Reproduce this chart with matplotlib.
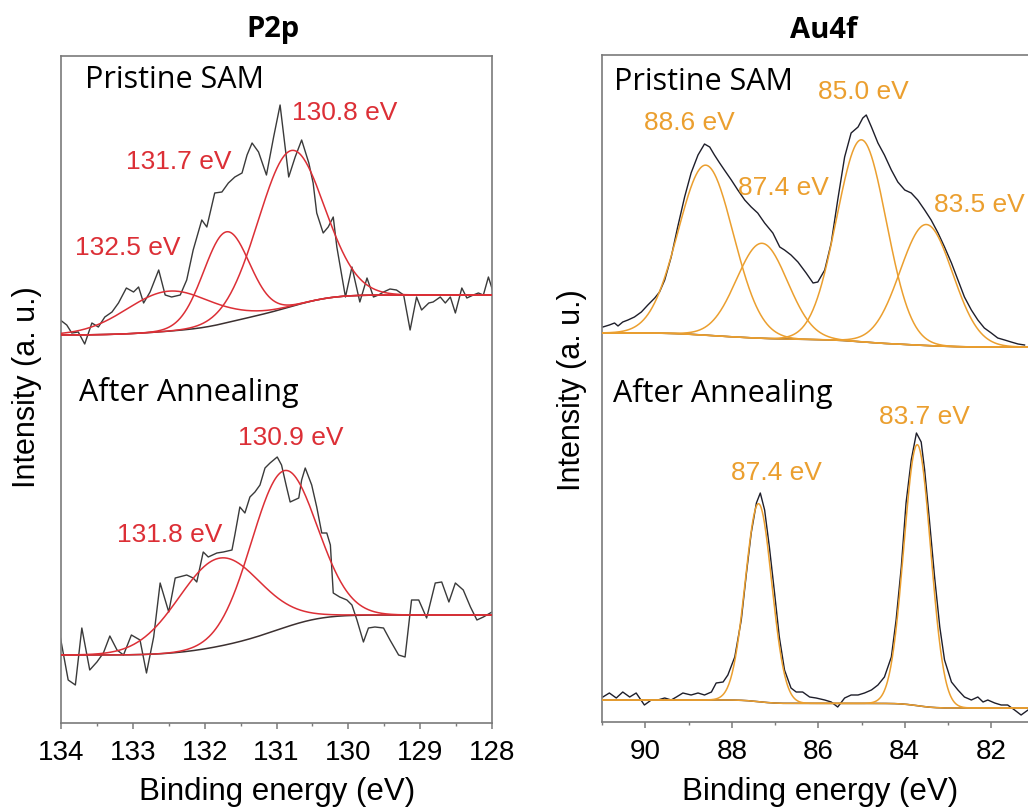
import numpy as np
import matplotlib
matplotlib.use('Agg')
import matplotlib.pyplot as plt
from matplotlib.ticker import MultipleLocator

plt.rcParams['font.family'] = ['Liberation Sans', 'DejaVu Sans']

# ---- P2p, pristine SAM: binding energy (eV) / intensity (a.u.)
p2p_sam_be = [134.01, 133.92, 133.85, 133.76, 133.67, 133.57, 133.48, 133.39, 133.29, 133.20,
              133.09, 132.99, 132.92, 132.85, 132.76, 132.64, 132.55, 132.46, 132.34, 132.25,
              132.16, 132.04, 131.97, 131.86, 131.76, 131.67, 131.58, 131.48, 131.41, 131.34,
              131.25, 131.14, 131.04, 130.95, 130.83, 130.74, 130.65, 130.55, 130.49, 130.44,
              130.35, 130.28, 130.21, 130.16, 130.04, 129.95, 129.84, 129.74, 129.65, 129.58,
              129.51, 129.42, 129.33, 129.23, 129.14, 129.05, 128.98, 128.88, 128.82, 128.72,
              128.65, 128.58, 128.51, 128.42, 128.35, 128.26, 128.19, 128.12, 128.05, 127.98]
p2p_sam_int = [403, 398, 390, 391, 379, 400, 396, 406, 411, 420,
               435, 431, 436, 420, 431, 453, 428, 426, 428, 443,
               473, 503, 496, 530, 531, 540, 546, 550, 568, 580,
               571, 548, 586, 618, 546, 566, 583, 560, 540, 510,
               490, 496, 506, 476, 426, 456, 421, 445, 426, 428,
               431, 434, 433, 428, 393, 426, 413, 420, 421, 426,
               420, 426, 410, 435, 425, 428, 430, 428, 446, 430]
p2p_sam_centers = [130.8, 131.7, 132.5]
p2p_sam_heights = [156, 91, 40]
p2p_sam_fwhm = [1.07, 0.75, 1.4]
p2p_sam_bg = (388, 428)  # high-BE side, low-BE side

# ---- P2p, after annealing
p2p_ann_be = [134.01, 133.90, 133.80, 133.71, 133.60, 133.50, 133.41, 133.32, 133.22, 133.13,
              133.02, 132.90, 132.81, 132.71, 132.62, 132.50, 132.41, 132.25, 132.16, 132.11,
              132.02, 131.95, 131.83, 131.74, 131.62, 131.58, 131.51, 131.44, 131.37, 131.30,
              131.23, 131.16, 131.09, 130.99, 130.93, 130.86, 130.81, 130.69, 130.65, 130.60,
              130.51, 130.44, 130.37, 130.30, 130.25, 130.21, 130.12, 130.02, 129.95, 129.88,
              129.79, 129.72, 129.63, 129.51, 129.42, 129.30, 129.21, 129.12, 129.02, 128.91,
              128.79, 128.70, 128.60, 128.51, 128.40, 128.30, 128.21, 128.12, 128.00]
p2p_ann_int = [86, 43, 38, 95, 53, 61, 70, 87, 73, 68,
               88, 83, 50, 86, 140, 111, 145, 148, 145, 141,
               171, 166, 170, 171, 173, 188, 216, 210, 226, 231,
               238, 255, 260, 266, 258, 236, 221, 225, 243, 255,
               238, 216, 190, 190, 178, 130, 126, 123, 118, 103,
               81, 95, 96, 95, 83, 68, 66, 123, 123, 105,
               140, 141, 121, 140, 133, 116, 103, 106, 111]
p2p_ann_centers = [130.9, 131.8]
p2p_ann_heights = [157, 88]
p2p_ann_fwhm = [1.07, 1.35]
p2p_ann_bg = (68, 108)

# ---- Au4f, pristine SAM
au_sam_be = [90.98, 90.83, 90.71, 90.63, 90.52, 90.40, 90.25, 90.09, 89.94, 89.78,
             89.67, 89.55, 89.40, 89.25, 89.09, 88.94, 88.78, 88.63, 88.51, 88.40,
             88.28, 88.17, 88.01, 87.86, 87.70, 87.55, 87.40, 87.24, 87.05, 86.89,
             86.78, 86.63, 86.47, 86.28, 86.12, 86.01, 85.85, 85.70, 85.55, 85.39,
             85.24, 85.08, 84.97, 84.89, 84.77, 84.62, 84.47, 84.31, 84.16, 84.00,
             83.85, 83.70, 83.54, 83.39, 83.23, 83.08, 82.92, 82.77, 82.62, 82.46,
             82.31, 82.16, 82.00, 81.85, 81.69, 81.54, 81.38, 81.23]
au_sam_int = [395, 397, 399, 396, 400, 402, 405, 410, 417, 424,
              430, 442, 465, 495, 525, 549, 567, 578, 575, 567,
              559, 552, 542, 532, 522, 515, 509, 499, 489, 475,
              472, 467, 460, 449, 439, 440, 452, 479, 522, 565,
              589, 595, 604, 607, 595, 579, 567, 552, 540, 532,
              529, 522, 512, 502, 489, 475, 459, 442, 425, 412,
              402, 394, 389, 384, 382, 380, 378, 377]
au_sam_centers = [88.6, 87.3, 85.0, 83.5]
au_sam_heights = [170, 95, 202, 121]
au_sam_fwhm = [1.50, 1.39, 1.35, 1.43]
au_sam_bg = (389, 375)

# ---- Au4f, after annealing
au_ann_be = [90.98, 90.83, 90.67, 90.52, 90.36, 90.21, 90.02, 89.86, 89.71, 89.55,
             89.40, 89.28, 89.13, 88.94, 88.78, 88.63, 88.47, 88.36, 88.20, 88.09,
             87.93, 87.78, 87.66, 87.55, 87.43, 87.34, 87.24, 87.13, 87.01, 86.90,
             86.78, 86.63, 86.51, 86.36, 86.20, 86.05, 85.85, 85.70, 85.55, 85.39,
             85.24, 85.08, 84.93, 84.77, 84.62, 84.47, 84.31, 84.20, 84.08, 83.97,
             83.85, 83.73, 83.62, 83.54, 83.43, 83.31, 83.19, 83.08, 82.92, 82.77,
             82.62, 82.46, 82.31, 82.19, 82.08, 81.92, 81.77, 81.62, 81.46, 81.31, 81.15]
au_ann_int = [25, 29, 24, 30, 25, 29, 17, 22, 22, 24,
              22, 25, 29, 27, 29, 27, 30, 39, 40, 47,
              65, 102, 149, 189, 219, 229, 212, 175, 129, 85,
              52, 34, 30, 30, 25, 24, 22, 20, 15, 24,
              27, 27, 29, 32, 37, 45, 65, 102, 155, 219,
              262, 289, 280, 252, 202, 145, 95, 62, 40, 32,
              25, 22, 25, 20, 22, 19, 17, 17, 12, 7, 12]
au_ann_centers = [87.38, 83.71]
au_ann_heights = [198, 261]
au_ann_fwhm = [0.72, 0.73]
au_ann_bg = (22, 14)

p2p_sam_labels = ['130.8 eV', '131.7 eV', '132.5 eV']
p2p_ann_labels = ['130.9 eV', '131.8 eV']
au_sam_labels = ['88.6 eV', '87.4 eV', '85.0 eV', '83.5 eV']
au_ann_labels = ['87.4 eV', '83.7 eV']

RED = '#dc2f36'
ORANGE = '#eb9f2f'
DATA = '#3a3a3a'


def gauss(x, c, h, fwhm):
    s = fwhm / 2.3548
    return h * np.exp(-0.5 * ((x - c) / s) ** 2)


def draw_fit(ax, x, centers, heights, fwhm, bg_levels, color):
    comps = [gauss(x, c, h, w) for c, h, w in zip(centers, heights, fwhm)]
    total = np.sum(comps, axis=0)
    frac = np.cumsum(total) / np.sum(total)   # x ascending -> Shirley-like step
    bg = bg_levels[1] + (bg_levels[0] - bg_levels[1]) * frac
    ax.plot(x, bg, color='#3c3030', lw=1.1, zorder=3)
    for comp in comps:
        ax.plot(x, bg + comp, color=color, lw=1.1, zorder=4)


fig = plt.figure(figsize=(10.28, 8.09), dpi=100)
ax1 = fig.add_axes([61 / 1028, 86 / 809, 431 / 1028, 667 / 809])
ax2 = fig.add_axes([602 / 1028, 87 / 809, 432.5 / 1028, 667 / 809])

# left: P2p
ax1.plot(p2p_sam_be, p2p_sam_int, color=DATA, lw=1.0, zorder=2)
ax1.plot(p2p_ann_be, p2p_ann_int, color=DATA, lw=1.0, zorder=2)
xg = np.linspace(127.9, 134.1, 600)
draw_fit(ax1, xg, p2p_sam_centers, p2p_sam_heights, p2p_sam_fwhm, p2p_sam_bg, RED)
draw_fit(ax1, xg, p2p_ann_centers, p2p_ann_heights, p2p_ann_fwhm, p2p_ann_bg, RED)
ax1.set_xlim(134, 128)
ax1.set_ylim(0, 667)
ax1.xaxis.set_major_locator(MultipleLocator(1))
ax1.xaxis.set_minor_locator(MultipleLocator(0.5))

# right: Au4f
ax2.plot(au_sam_be, au_sam_int, color='#1e1e2a', lw=1.0, zorder=2)
ax2.plot(au_ann_be, au_ann_int, color='#1e1e2a', lw=1.0, zorder=2)
xg2 = np.linspace(81.0, 91.1, 800)
draw_fit(ax2, xg2, au_sam_centers, au_sam_heights, au_sam_fwhm, au_sam_bg, ORANGE)
draw_fit(ax2, xg2, au_ann_centers, au_ann_heights, au_ann_fwhm, au_ann_bg, ORANGE)
ax2.set_xlim(91, 81)
ax2.set_ylim(0, 667)
ax2.xaxis.set_major_locator(MultipleLocator(2))
ax2.xaxis.set_minor_locator(MultipleLocator(1))

for ax in (ax1, ax2):
    ax.set_yticks([])
    for sp in ax.spines.values():
        sp.set_color('#7a7a7a')
        sp.set_linewidth(1.2)
    ax.tick_params(axis='x', which='major', direction='out', length=4, width=1.1,
                   color='#7a7a7a', labelsize=20, pad=8)
    ax.tick_params(axis='x', which='minor', direction='out', length=2.5, width=1.0,
                   color='#7a7a7a')

# sample labels
cal = ['Open Sans', 'DejaVu Sans']
ax1.text(133.67, 643, 'Pristine SAM', family=cal, fontsize=22, ha='left', va='center')
ax1.text(133.75, 330, 'After Annealing', family=cal, fontsize=22, ha='left', va='center')
ax2.text(90.72, 640, 'Pristine SAM', family=cal, fontsize=22, ha='left', va='center')
ax2.text(90.74, 329, 'After Annealing', family=cal, fontsize=22, ha='left', va='center')

# peak labels
for lbl, (x, y) in zip(p2p_sam_labels, [(130.78, 610), (133.09, 561), (133.8, 475)]):
    ax1.text(x, y, lbl, color=RED, fontsize=19, ha='left', va='center')
for lbl, (x, y) in zip(p2p_ann_labels, [(131.53, 285), (133.22, 188)]):
    ax1.text(x, y, lbl, color=RED, fontsize=19, ha='left', va='center')
for lbl, (x, y) in zip(au_sam_labels, [(90.02, 599), (87.85, 534), (86.0, 630), (83.32, 517)]):
    ax2.text(x, y, lbl, color=ORANGE, fontsize=19, ha='left', va='center')
for lbl, (x, y) in zip(au_ann_labels, [(88.01, 249), (84.59, 305)]):
    ax2.text(x, y, lbl, color=ORANGE, fontsize=19, ha='left', va='center')

# titles and axis labels
fig.text(273 / 1028, 1 - 30 / 809, 'P2p', family=cal, fontsize=21, fontweight='bold',
         ha='center', va='center')
fig.text(824 / 1028, 1 - 30 / 809, 'Au4f', family=cal, fontsize=21, fontweight='bold',
         ha='center', va='center')
fig.text(27.5 / 1028, 1 - 387 / 809, 'Intensity (a. u.)', fontsize=22, rotation=90,
         ha='center', va='center')
fig.text(572 / 1028, 1 - 390 / 809, 'Intensity (a. u.)', fontsize=22, rotation=90,
         ha='center', va='center')
fig.text(277 / 1028, 1 - 792 / 809, 'Binding energy (eV)', fontsize=22.5,
         ha='center', va='center')
fig.text(820 / 1028, 1 - 792 / 809, 'Binding energy (eV)', fontsize=22.5,
         ha='center', va='center')

fig.savefig('out.png', dpi=100)
